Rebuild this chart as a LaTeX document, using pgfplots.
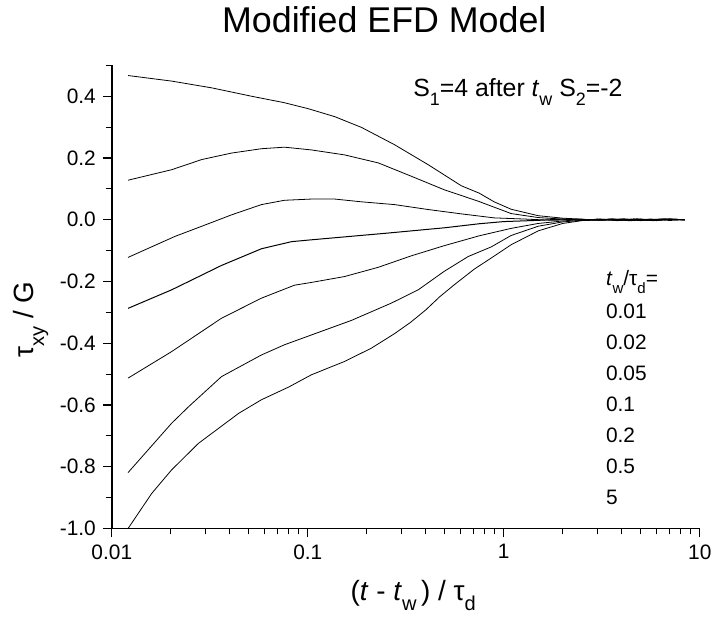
\documentclass[border=0pt]{standalone}
\usepackage{fontspec}
\setmainfont{Liberation Sans}
\usepackage{pgfplots}
\pgfplotsset{compat=1.18}
% low subscripts as in the original figure
\newcommand{\lsub}[1]{\raisebox{-0.36em}{\scalebox{0.72}{#1}}}

\begin{document}
\begin{tikzpicture}
\begin{axis}[
  scale only axis,
  width=294.5bp, height=232bp,
  xmode=log, log basis x=10,
  xmin=0.01, xmax=10, ymin=-1, ymax=0.5,
  axis lines=left,
  axis line style={-, line width=0.75bp},
  clip=false,
  xtick={0.01,0.1,1,10},
  xticklabels={0.01,0.1,1,10},
  minor xtick={0.02,0.03,0.04,0.05,0.06,0.07,0.08,0.09,0.2,0.3,0.4,0.5,0.6,0.7,0.8,0.9,2,3,4,5,6,7,8,9},
  ytick={-1,-0.8,-0.6,-0.4,-0.2,0,0.2,0.4},
  yticklabels={-1.0,-0.8,-0.6,-0.4,-0.2,0.0,0.2,0.4},
  minor ytick={-0.9,-0.7,-0.5,-0.3,-0.1,0.1,0.3,0.5},
  tick align=outside,
  major tick length=4.5bp, minor tick length=3bp,
  major tick style={line width=0.6bp, black},
  minor tick style={line width=0.6bp, black},
  ticklabel style={font=\fontsize{10.5}{12}\selectfont},
  title={Modified EFD Model},
  title style={at={(axis description cs:0.4635,1.045)}, anchor=base, font=\fontsize{18}{21}\selectfont},
  xlabel={(\textit{t} - \textit{t}\lsub{w}\,) / τ\lsub{d}},
  xlabel style={at={(axis description cs:0.5127,-0.155)}, anchor=base, font=\fontsize{14}{16}\selectfont},
  ylabel={τ\lsub{xy} / G},
  ylabel style={at={(axis description cs:-0.1324,0.4515)}, anchor=base, font=\fontsize{14}{16}\selectfont},
  cycle list={{black, no markers, solid, line width=0.5bp}},
]
% t_w = 0.01
\addplot coordinates {
  (0.0121,0.467) (0.0202,0.449) (0.0324,0.427) (0.0516,0.400) (0.076,0.379)
  (0.1,0.360) (0.137,0.334) (0.188,0.299) (0.277,0.243) (0.412,0.178)
  (0.607,0.110) (0.75,0.086) (0.893,0.058) (1.09,0.034) (1.5,0.013)
  (2.0,0.005) (2.5,0.002) (3.0,-0.002) (3.6,0.003) (4.3,-0.002)
  (5.0,0.002) (6.0,-0.003) (7.0,0.002) (8.4,0.000)
};
% t_w = 0.02
\addplot coordinates {
  (0.0121,0.128) (0.0202,0.162) (0.0288,0.195) (0.0409,0.216) (0.058,0.230)
  (0.076,0.235) (0.1045,0.226) (0.154,0.210) (0.229,0.184) (0.337,0.141)
  (0.497,0.097) (0.741,0.060) (1.09,0.020) (1.5,0.007) (2.0,0.002)
  (2.5,-0.002) (3.1,0.002) (3.8,-0.003) (4.6,0.002) (5.5,-0.002)
  (6.6,0.003) (8.4,0.000)
};
% t_w = 0.05
\addplot coordinates {
  (0.0121,-0.122) (0.021,-0.054) (0.0288,-0.021) (0.0409,0.016) (0.058,0.049)
  (0.076,0.063) (0.1045,0.067) (0.137,0.067) (0.188,0.058) (0.277,0.049)
  (0.412,0.033) (0.607,0.019) (0.893,0.006) (1.3,0.002) (1.8,-0.002)
  (2.4,0.002) (3.2,-0.002) (4.1,0.003) (5.2,-0.002) (6.4,0.002) (8.4,0.000)
};
% t_w = 0.1
\addplot coordinates {
  (0.0121,-0.287) (0.0202,-0.227) (0.0363,-0.148) (0.058,-0.094) (0.0826,-0.071)
  (0.1045,-0.065) (0.258,-0.043) (0.5,-0.026) (0.75,-0.013) (1.0,-0.006)
  (1.5,-0.002) (2.0,0.002) (2.7,-0.002) (3.5,0.002) (4.4,-0.003)
  (5.6,0.002) (7.0,-0.002) (8.4,0.000)
};
% t_w = 0.2
\addplot coordinates {
  (0.0121,-0.513) (0.0202,-0.427) (0.0363,-0.319) (0.058,-0.254) (0.0855,-0.212)
  (0.1045,-0.203) (0.154,-0.184) (0.229,-0.154) (0.337,-0.117) (0.497,-0.084)
  (0.75,-0.052) (0.863,-0.043) (1.09,-0.028) (1.5,-0.012) (2.0,-0.004)
  (2.5,0.001) (3.2,-0.002) (4.0,0.002) (5.0,-0.003) (6.2,0.002) (8.4,0.000)
};
% t_w = 0.5
\addplot coordinates {
  (0.0121,-0.819) (0.0202,-0.659) (0.0247,-0.605) (0.0363,-0.508) (0.058,-0.438)
  (0.076,-0.405) (0.1045,-0.373) (0.167,-0.326) (0.267,-0.270) (0.366,-0.227)
  (0.497,-0.167) (0.659,-0.119) (0.863,-0.088) (1.09,-0.051) (1.5,-0.021)
  (2.0,-0.007) (2.5,-0.002) (3.1,0.002) (3.9,-0.002) (4.8,0.003)
  (6.0,-0.002) (7.2,0.002) (8.4,0.000)
};
% t_w = 5
\addplot coordinates {
  (0.0121,-1.000) (0.016,-0.886) (0.0202,-0.810) (0.0277,-0.724) (0.0444,-0.627)
  (0.058,-0.583) (0.0798,-0.542) (0.1045,-0.502) (0.154,-0.459) (0.211,-0.416)
  (0.277,-0.369) (0.335,-0.332) (0.40,-0.292) (0.47,-0.250) (0.558,-0.211)
  (0.707,-0.160) (0.863,-0.124) (1.09,-0.081) (1.5,-0.036) (2.0,-0.012)
  (2.5,-0.003) (3.0,0.002) (3.7,-0.002) (4.6,0.002) (5.8,-0.003) (7.0,0.002) (8.4,0.000)
};

% annotation
\node[anchor=base west, font=\fontsize{12.5}{15}\selectfont] at (rel axis cs:0.5008,0.9332)
  {S\lsub{1}=4 after \textit{t}\lsub{w} S\lsub{2}=-2};

% list of t_w values
\begin{scope}[every node/.style={anchor=base west, inner sep=0pt, font=\fontsize{10.5}{12}\selectfont}]
\node at (rel axis cs:0.8399,0.5237) {\textit{t}\lsub{w}/τ\lsub{d}=};
\node at (rel axis cs:0.8399,0.4526) {0.01};
\node at (rel axis cs:0.8399,0.3858) {0.02};
\node at (rel axis cs:0.8399,0.3190) {0.05};
\node at (rel axis cs:0.8399,0.2522) {0.1};
\node at (rel axis cs:0.8399,0.1853) {0.2};
\node at (rel axis cs:0.8399,0.1185) {0.5};
\node at (rel axis cs:0.8399,0.0517) {5};
\end{scope}

% page frame
\path (rel axis cs:-0.1902,-0.1918) rectangle (rel axis cs:1.0289,1.1228);
\end{axis}
\end{tikzpicture}
\end{document}
